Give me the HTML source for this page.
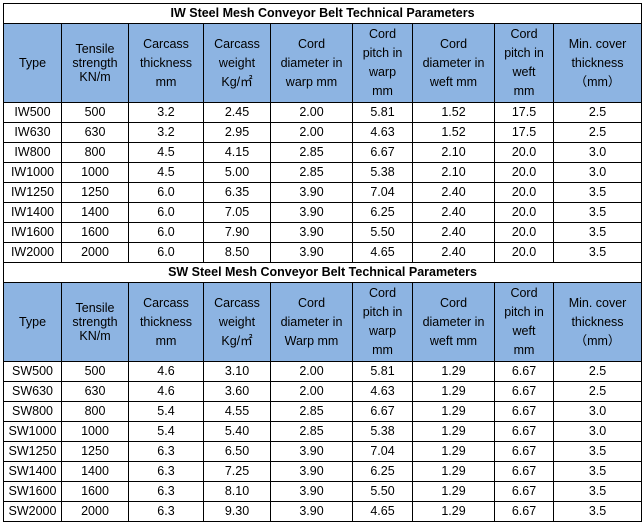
<!DOCTYPE html>
<html><head><meta charset="utf-8"><style>
body{margin:0;background:#fff;width:644px;height:524px;overflow:hidden;font-family:"Liberation Sans",Arial,"Noto Sans CJK SC",sans-serif;}
table{position:absolute;left:3px;top:3px;border-collapse:collapse;table-layout:fixed;width:638px;}
td{border:1px solid #000;text-align:center;vertical-align:middle;font-size:12.5px;color:#000;padding:0;line-height:15px;overflow:hidden}
tr.t td{height:19px;font-weight:bold;font-size:12.5px}
tr.h td{background:#8DB4E2;height:78px;line-height:19px}
tr.h td.k{line-height:14px}
tr.d td{height:19px}
</style></head><body>
<table>
<colgroup><col style="width:58px"><col style="width:67px"><col style="width:75px"><col style="width:67px"><col style="width:82px"><col style="width:60px"><col style="width:82px"><col style="width:59px"><col style="width:88px"></colgroup>
<tr class="t"><td colspan="9">IW Steel Mesh Conveyor Belt Technical Parameters</td></tr>
<tr class="h"><td>Type</td><td class="k">Tensile<br>strength<br>KN/m</td><td>Carcass<br>thickness<br>mm</td><td>Carcass<br>weight<br>Kg/㎡</td><td>Cord<br>diameter in<br>warp mm</td><td>Cord<br>pitch in<br>warp<br>mm</td><td>Cord<br>diameter in<br>weft mm</td><td>Cord<br>pitch in<br>weft<br>mm</td><td>Min. cover<br>thickness<br>（mm）</td></tr>
<tr class="d"><td>IW500</td><td>500</td><td>3.2</td><td>2.45</td><td>2.00</td><td>5.81</td><td>1.52</td><td>17.5</td><td>2.5</td></tr>
<tr class="d"><td>IW630</td><td>630</td><td>3.2</td><td>2.95</td><td>2.00</td><td>4.63</td><td>1.52</td><td>17.5</td><td>2.5</td></tr>
<tr class="d"><td>IW800</td><td>800</td><td>4.5</td><td>4.15</td><td>2.85</td><td>6.67</td><td>2.10</td><td>20.0</td><td>3.0</td></tr>
<tr class="d"><td>IW1000</td><td>1000</td><td>4.5</td><td>5.00</td><td>2.85</td><td>5.38</td><td>2.10</td><td>20.0</td><td>3.0</td></tr>
<tr class="d"><td>IW1250</td><td>1250</td><td>6.0</td><td>6.35</td><td>3.90</td><td>7.04</td><td>2.40</td><td>20.0</td><td>3.5</td></tr>
<tr class="d"><td>IW1400</td><td>1400</td><td>6.0</td><td>7.05</td><td>3.90</td><td>6.25</td><td>2.40</td><td>20.0</td><td>3.5</td></tr>
<tr class="d"><td>IW1600</td><td>1600</td><td>6.0</td><td>7.90</td><td>3.90</td><td>5.50</td><td>2.40</td><td>20.0</td><td>3.5</td></tr>
<tr class="d"><td>IW2000</td><td>2000</td><td>6.0</td><td>8.50</td><td>3.90</td><td>4.65</td><td>2.40</td><td>20.0</td><td>3.5</td></tr>
<tr class="t"><td colspan="9">SW Steel Mesh Conveyor Belt Technical Parameters</td></tr>
<tr class="h"><td>Type</td><td class="k">Tensile<br>strength<br>KN/m</td><td>Carcass<br>thickness<br>mm</td><td>Carcass<br>weight<br>Kg/㎡</td><td>Cord<br>diameter in<br>Warp mm</td><td>Cord<br>pitch in<br>warp<br>mm</td><td>Cord<br>diameter in<br>weft mm</td><td>Cord<br>pitch in<br>weft<br>mm</td><td>Min. cover<br>thickness<br>（mm）</td></tr>
<tr class="d"><td>SW500</td><td>500</td><td>4.6</td><td>3.10</td><td>2.00</td><td>5.81</td><td>1.29</td><td>6.67</td><td>2.5</td></tr>
<tr class="d"><td>SW630</td><td>630</td><td>4.6</td><td>3.60</td><td>2.00</td><td>4.63</td><td>1.29</td><td>6.67</td><td>2.5</td></tr>
<tr class="d"><td>SW800</td><td>800</td><td>5.4</td><td>4.55</td><td>2.85</td><td>6.67</td><td>1.29</td><td>6.67</td><td>3.0</td></tr>
<tr class="d"><td>SW1000</td><td>1000</td><td>5.4</td><td>5.40</td><td>2.85</td><td>5.38</td><td>1.29</td><td>6.67</td><td>3.0</td></tr>
<tr class="d"><td>SW1250</td><td>1250</td><td>6.3</td><td>6.50</td><td>3.90</td><td>7.04</td><td>1.29</td><td>6.67</td><td>3.5</td></tr>
<tr class="d"><td>SW1400</td><td>1400</td><td>6.3</td><td>7.25</td><td>3.90</td><td>6.25</td><td>1.29</td><td>6.67</td><td>3.5</td></tr>
<tr class="d"><td>SW1600</td><td>1600</td><td>6.3</td><td>8.10</td><td>3.90</td><td>5.50</td><td>1.29</td><td>6.67</td><td>3.5</td></tr>
<tr class="d"><td>SW2000</td><td>2000</td><td>6.3</td><td>9.30</td><td>3.90</td><td>4.65</td><td>1.29</td><td>6.67</td><td>3.5</td></tr>
</table>
</body></html>
